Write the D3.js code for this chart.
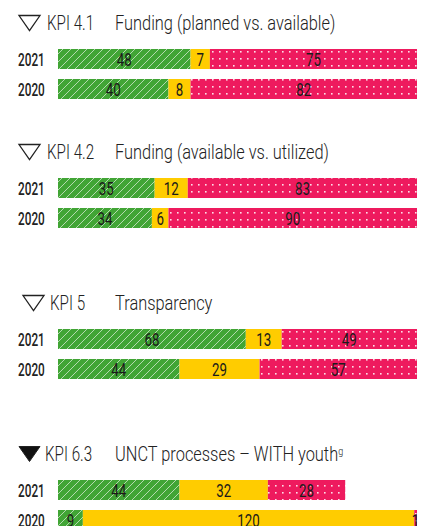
<!DOCTYPE html>
<html>
<head>
<meta charset="utf-8">
<script src="https://cdn.jsdelivr.net/npm/d3@7"></script>
<style>
  body { margin: 0; background: #fff; }
  svg { display: block; font-family: Roboto, "Noto Sans", sans-serif; }
</style>
</head>
<body>
<svg id="chart" width="424" height="526"></svg>
<script>
// data
var kpis = ["KPI 4.1", "KPI 4.2", "KPI 5", "KPI 6.3"];
var titles = ["Funding (planned vs. available)", "Funding (available vs. utilized)", "Transparency", "UNCT processes \u2013 WITH youth"];
var filled = [false, false, false, true];
var years = ["2021", "2020"];
var greenVals = [[48, 40], [35, 34], [68, 44], [44, 9]];
var yellowVals = [[7, 8], [12, 6], [13, 29], [32, 120]];
var pinkVals = [[75, 82], [83, 90], [49, 57], [28, 1]];

// layout
var blockTop = [49, 178, 329, 480];
var triX = [19, 19, 23, 19];
var kpiX = [47, 47, 50, 45];
var barH = 20, gap = 10;

var svg = d3.select("#chart");
var x = d3.scaleLinear().domain([0, 130]).range([58, 417]);

var defs = svg.append("defs");
var hatch = defs.append("pattern").attr("id", "hatch")
    .attr("patternUnits", "userSpaceOnUse").attr("width", 8).attr("height", 8);
hatch.append("rect").attr("width", 8).attr("height", 8).attr("fill", "#41a535");
hatch.append("path").attr("d", "M0,8L8,0M-2,2L2,-2M6,10L10,6")
    .attr("stroke", "#fff").attr("stroke-opacity", 0.6).attr("stroke-width", 1);

var dots = defs.append("pattern").attr("id", "dots")
    .attr("patternUnits", "userSpaceOnUse").attr("width", 7).attr("height", 7);
dots.append("rect").attr("width", 7).attr("height", 7).attr("fill", "#ee1a5e");
dots.append("rect").attr("x", 2).attr("y", 2).attr("width", 1.6).attr("height", 1.6)
    .attr("fill", "#fff").attr("opacity", 0.85);

function label(g, tx, ty, str, size, weight, anchor, color, sx) {
    return g.append("text")
        .attr("transform", "translate(" + tx + "," + ty + ") scale(" + sx + ",1)")
        .attr("dy", "0.36em")
        .attr("text-anchor", anchor)
        .attr("font-size", size)
        .attr("font-weight", weight)
        .attr("fill", color)
        .text(str);
}

kpis.forEach(function(k, i) {
    var g = svg.append("g");
    var top = blockTop[i];
    var ty = top - 26;

    // triangle marker
    var tx = triX[i];
    g.append("path")
        .attr("d", "M" + tx + "," + (ty - 7.5) + "L" + (tx + 21) + "," + (ty - 7.5) + "L" + (tx + 10.5) + "," + (ty + 7.5) + "Z")
        .attr("fill", filled[i] ? "#111" : "none")
        .attr("stroke", "#222")
        .attr("stroke-width", filled[i] ? 1 : 1.3);

    label(g, kpiX[i], ty, k, 20, 300, "start", "#222", 0.76);
    var t = label(g, 115, ty, titles[i], 20, 300, "start", "#222", 0.82);
    if (i === 3) {
        t.append("tspan").attr("font-size", 11).attr("dy", "-0.6em").text("g");
    }

    var y = d3.scaleBand().domain(years)
        .range([top, top + barH * 2 + gap]).paddingInner(gap / (barH + gap));

    years.forEach(function(yr, j) {
        var y0 = y(yr);
        label(g, 18, y0 + barH / 2, yr, 19, 500, "start", "#222", 0.62);

        var segs = [
            { v: greenVals[i][j], fill: "url(#hatch)" },
            { v: yellowVals[i][j], fill: "#ffcc00" },
            { v: pinkVals[i][j], fill: "url(#dots)" }
        ];
        var acc = 0;
        segs.forEach(function(s) {
            s.a = acc; acc += s.v; s.b = acc;
        });
        g.selectAll(null).data(segs).enter().append("rect")
            .attr("x", function(d) { return x(d.a); })
            .attr("y", y0)
            .attr("width", function(d) { return x(d.b) - x(d.a); })
            .attr("height", y.bandwidth())
            .attr("fill", function(d) { return d.fill; });
        segs.forEach(function(s) {
            label(g, (x(s.a) + x(s.b)) / 2, y0 + barH / 2 + 0.5, s.v, 18, 400, "middle", "#1a1a1a", 0.74);
        });
    });
});
</script>
</body>
</html>
